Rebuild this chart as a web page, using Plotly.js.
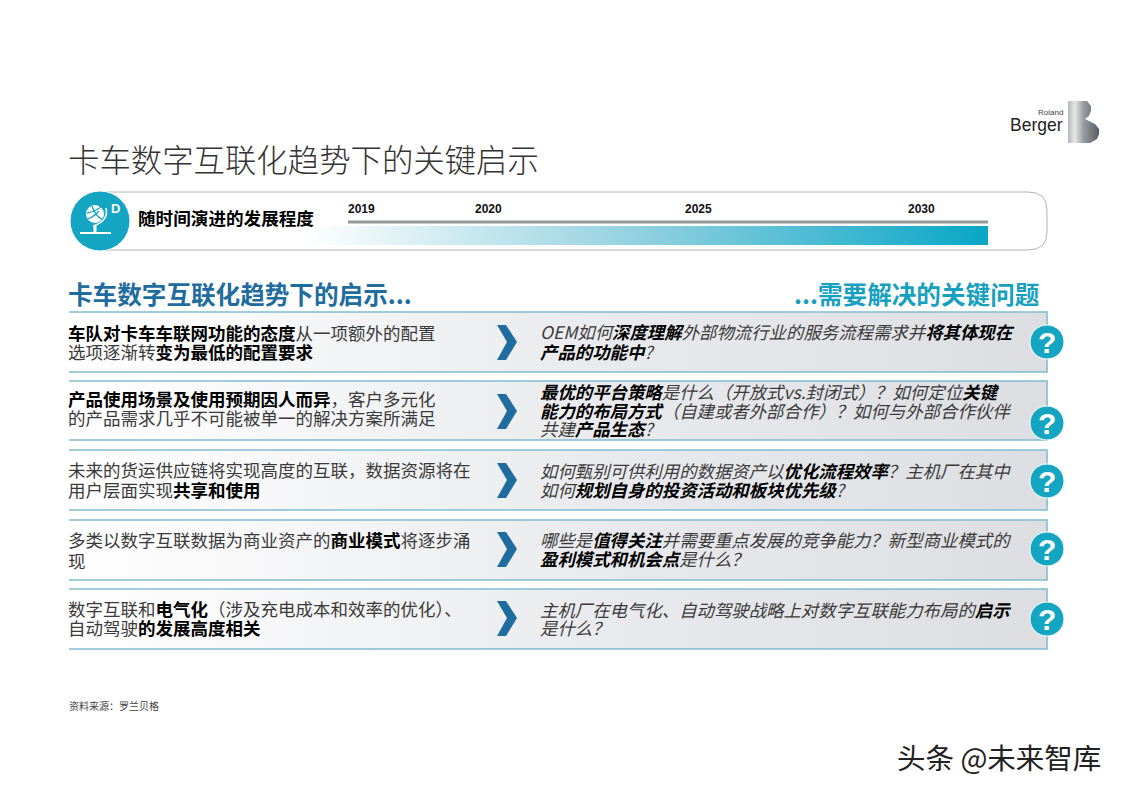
<!DOCTYPE html>
<html>
<head>
<meta charset="utf-8">
<script src="https://cdn.plot.ly/plotly-3.0.1.min.js"></script>
<style>html,body{margin:0;padding:0;background:#fff}</style>
</head>
<body>
<div id="slide" style="width:1122px;height:793px"></div>
<script>
// slide text
var title = '卡车数字互联化趋势下的关键启示';
var timelineLabel = '随时间演进的发展程度';
var years = ['2019', '2020', '2025', '2030'];
var leftHeader = '卡车数字互联化趋势下的启示...';
var rightHeader = '...需要解决的关键问题';
var source = '资料来源：罗兰贝格';
var watermark = '头条 @未来智库';

var implications = [
  ['<b>车队对卡车车联网功能的态度</b>从一项额外的配置', '选项逐渐转<b>变为最低的配置要求</b>'],
  ['<b>产品使用场景及使用预期因人而异</b>，客户多元化', '的产品需求几乎不可能被单一的解决方案所满足'],
  ['未来的货运供应链将实现高度的互联，数据资源将在', '用户层面实现<b>共享和使用</b>'],
  ['多类以数字互联数据为商业资产的<b>商业模式</b>将逐步涌', '现'],
  ['数字互联和<b>电气化</b>（涉及充电成本和效率的优化）、', '自动驾驶<b>的发展高度相关</b>']
];
var questions = [
  ['OEM如何<b>深度理解</b>外部物流行业的服务流程需求并<b>将其体现在</b>', '<b>产品的功能中</b>?'],
  ['<b>最优的平台策略</b>是什么（开放式vs.封闭式）？如何定位<b>关键</b>', '<b>能力的布局方式</b>（自建或者外部合作）？如何与外部合作伙伴', '共建<b>产品生态</b>?'],
  ['如何甄别可供利用的数据资产以<b>优化流程效率</b>？主机厂在其中', '如何<b>规划自身的投资活动和板块优先级</b>?'],
  ['哪些是<b>值得关注</b>并需要重点发展的竞争能力？新型商业模式的', '<b>盈利模式和机会点</b>是什么？'],
  ['主机厂在电气化、自动驾驶战略上对数字互联能力布局的<b>启示</b>', '是什么？']
];

// page geometry in slide pixels
var yearX = [361, 488, 698, 921];
var rowTop = [312, 381, 450, 520, 589];
var rowBottom = [372, 440, 510, 580, 649];
var leftLineY = [[332, 351], [398, 417], [469, 489], [539, 560], [608, 627]];
var rightLineY = [[331, 351], [391, 410, 428], [470, 489], [539, 558], [609, 627]];
var chevronY = [342, 411, 480, 549, 618];
var badgeY = [342, 423, 481, 549, 619];

var FONT = '"Noto Sans CJK SC", "Noto Sans", sans-serif';
var LATIN = '"Liberation Sans", Arial, sans-serif';
var TEAL = '#14a5c3';
var BLUE = '#1f6c9f';
var EDGE = '#7fbfd0';

function label(x, y, text, size, color, anchor, extra) {
  var a = {
    x: x, y: y, text: text, showarrow: false, xanchor: anchor || 'left', yanchor: 'middle',
    font: {family: FONT, size: size, color: color}, borderpad: 0
  };
  return Object.assign(a, extra || {});
}

// bold runs are pure black, the rest of the line a softer grey
function blackBold(t) {
  return t.replace(/<b>/g, '<b><span style="color:#000000">').replace(/<\/b>/g, '</span></b>');
}

function gradientBox(x0, x1, y0, y1, scale) {
  return {
    x: [x0, x1, x1, x0, x0], y: [y0, y0, y1, y1, y0], type: 'scatter', mode: 'lines',
    line: {width: 0}, fill: 'toself', hoverinfo: 'skip',
    fillgradient: {type: 'horizontal', colorscale: scale}
  };
}

var traces = [];
var shapes = [];
var annotations = [];

// timeline frame
shapes.push({type: 'path', layer: 'below', line: {color: '#b0b2b4', width: 1}, fillcolor: 'rgba(0,0,0,0)',
  path: 'M 100,192 L 1028,192 Q 1047,192 1047,210 L 1047,232 Q 1047,250 1028,250 L 100,250'});
traces.push(gradientBox(305, 988, 226, 245, [[0, '#ffffff'], [0.5, '#8fd0df'], [1, '#08a6c7']]));
shapes.push({type: 'line', x0: 348, x1: 988, y0: 222, y1: 222, line: {color: '#94979b', width: 3}});
years.forEach(function (y, i) {
  annotations.push(label(yearX[i], 209, '<b>' + y + '</b>', 12, '#111', 'center', {font: {family: LATIN, size: 12, color: '#111'}}));
});
annotations.push(label(137, 217, '<b>' + timelineLabel + '</b>', 17.6, '#000'));

// icon
shapes.push({type: 'circle', x0: 70, x1: 130, y0: 191, y1: 251, fillcolor: TEAL, line: {color: '#ffffff', width: 1}});
shapes.push({type: 'circle', x0: 86, x1: 104, y0: 205, y1: 223, fillcolor: '#ffffff', line: {width: 0}});
shapes.push({type: 'path', path: 'M 87,213 Q 94,212 101,207 M 92,206 Q 95,216 103,220 M 88,219 Q 95,216 99,211',
  fillcolor: 'rgba(0,0,0,0)', line: {color: TEAL, width: 1.3}});
shapes.push({type: 'path', path: 'M 106,208 Q 109,221 93,226', fillcolor: 'rgba(0,0,0,0)', line: {color: '#ffffff', width: 1.5}});
shapes.push({type: 'line', x0: 95, x1: 95, y0: 225, y1: 233, line: {color: '#ffffff', width: 3}});
shapes.push({type: 'line', x0: 80, x1: 111, y0: 233, y1: 233, line: {color: '#ffffff', width: 2}});
annotations.push(label(115, 208, '<b>D</b>', 13, '#ffffff', 'center', {font: {family: LATIN, size: 13, color: '#ffffff'}}));

// rows
implications.forEach(function (lines, i) {
  traces.push(gradientBox(69, 1047, rowTop[i], rowBottom[i], [[0, '#ffffff'], [0.55, '#e9eaed'], [1, '#dcdee2']]));
  shapes.push({type: 'path', layer: 'above', fillcolor: 'rgba(0,0,0,0)', line: {color: EDGE, width: 1.6},
    path: 'M 69,' + rowTop[i] + ' L 1047,' + rowTop[i] + ' L 1047,' + rowBottom[i] + ' L 69,' + rowBottom[i]});
  var c = chevronY[i];
  shapes.push({type: 'path', layer: 'above', fillcolor: BLUE, line: {width: 0},
    path: 'M 497,' + (c - 17) + ' L 506,' + (c - 17) + ' L 517,' + c + ' L 506,' + (c + 18) + ' L 497,' + (c + 18) + ' L 507,' + c + ' Z'});
  shapes.push({type: 'circle', layer: 'above', x0: 1030, x1: 1064, y0: badgeY[i] - 17, y1: badgeY[i] + 17,
    fillcolor: TEAL, line: {color: '#ffffff', width: 1}});
  annotations.push(label(1047, badgeY[i], '<b>?</b>', 30, '#ffffff', 'center', {font: {family: LATIN, size: 30, color: '#ffffff'}}));
  lines.forEach(function (t, j) {
    annotations.push(label(67, leftLineY[i][j], blackBold(t), 17.5, '#3a3a3a'));
  });
  questions[i].forEach(function (t, j) {
    annotations.push(label(539, rightLineY[i][j], '<i>' + blackBold(t) + '</i>', 17.4, '#3a3a3a'));
  });
});

// headings and footer
annotations.push(label(67, 158, title, 31.4, '#333333', 'left', {font: {family: FONT, size: 31.4, color: '#333333', weight: 300}}));
annotations.push(label(67, 293, '<b>' + leftHeader + '</b>', 24.6, BLUE));
annotations.push(label(1040, 293, '<b>' + rightHeader + '</b>', 24.6, '#18a0bf', 'right'));
annotations.push(label(68, 705, source, 10, '#444444'));
annotations.push(label(1102, 756, watermark, 28.5, '#222222', 'right'));

// logo
traces.push({
  x: [1068, 1087, 1091, 1091, 1089, 1085, 1095, 1099, 1099, 1097, 1090, 1068, 1068],
  y: [101, 101, 106, 111, 116, 119, 124, 129, 134, 139, 143, 143, 101],
  type: 'scatter', mode: 'lines', line: {width: 0}, fill: 'toself', hoverinfo: 'skip',
  fillgradient: {type: 'horizontal', colorscale: [[0, '#b4b8bb'], [0.22, '#e6e8e9'], [0.5, '#989da1'], [1, '#555c62']]}
});
annotations.push(label(1064, 112, 'Roland', 8, '#444', 'right', {font: {family: LATIN, size: 8, color: '#444'}}));
annotations.push(label(1064, 125, 'Berger', 17.5, '#222', 'right', {font: {family: LATIN, size: 17.5, color: '#222'}}));

var layout = {
  width: 1122, height: 793,
  margin: {l: 0, r: 0, t: 0, b: 0},
  paper_bgcolor: '#ffffff', plot_bgcolor: '#ffffff',
  showlegend: false,
  xaxis: {range: [0, 1122], visible: false, fixedrange: true},
  yaxis: {range: [793, 0], visible: false, fixedrange: true},
  shapes: shapes,
  annotations: annotations
};

Plotly.newPlot('slide', traces, layout, {displayModeBar: false, staticPlot: true});
</script>
</body>
</html>
